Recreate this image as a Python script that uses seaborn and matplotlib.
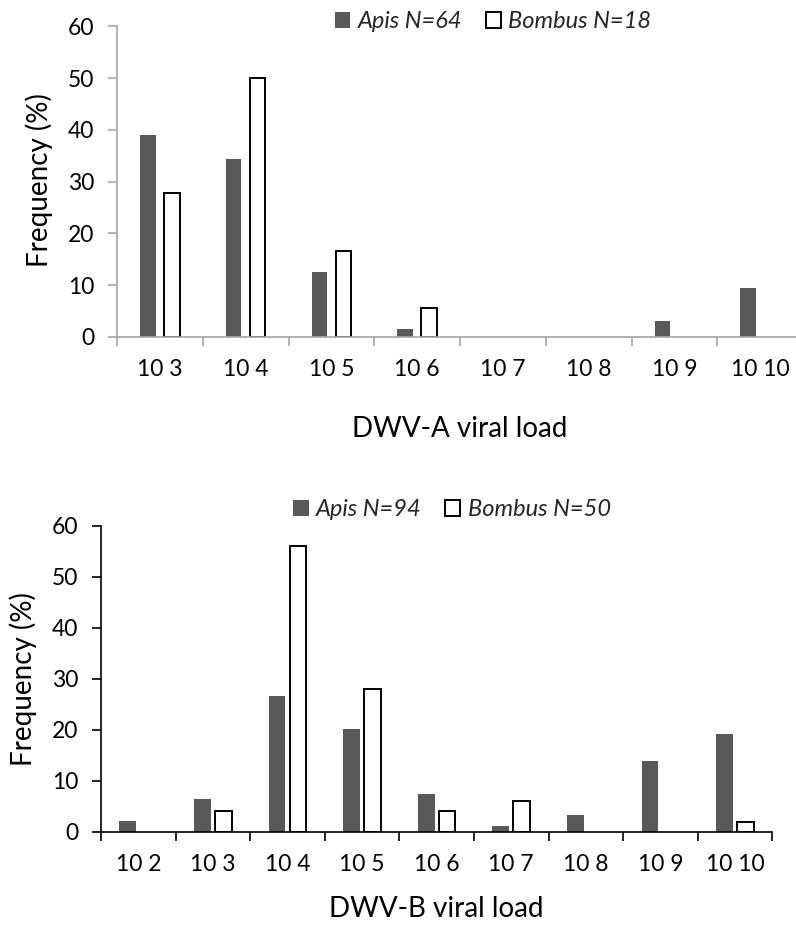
import matplotlib
matplotlib.use("Agg")
import matplotlib.pyplot as plt
import seaborn as sns
import pandas as pd
from matplotlib.patches import Patch
from matplotlib.ticker import FixedLocator

# ---- data ----
cats_a = ["10 3", "10 4", "10 5", "10 6", "10 7", "10 8", "10 9", "10 10"]
apis_a = [39.1, 34.4, 12.5, 1.6, 0, 0, 3.1, 9.4]
bombus_a = [27.8, 50.0, 16.7, 5.6, 0, 0, 0, 0]
legend_a = ["Apis N=64", "Bombus N=18"]

cats_b = ["10 2", "10 3", "10 4", "10 5", "10 6", "10 7", "10 8", "10 9", "10 10"]
apis_b = [2.1, 6.4, 26.6, 20.2, 7.4, 1.1, 3.2, 13.8, 19.1]
bombus_b = [0, 4, 56, 28, 4, 6, 0, 0, 2]
legend_b = ["Apis N=94", "Bombus N=50"]

xlabel_a = "DWV-A viral load"
xlabel_b = "DWV-B viral load"
ylabel = "Frequency (%)"
yticks = [0, 10, 20, 30, 40, 50, 60]

sns.set_theme(style="white")
plt.rcParams["font.family"] = ["Lato", "DejaVu Sans"]

W, H = 796, 927
fig = plt.figure(figsize=(W / 100, H / 100), dpi=100)

def px_axes(x0, x1, ytop, ybot):
    return fig.add_axes([x0 / W, 1 - ybot / H, (x1 - x0) / W, (ybot - ytop) / H])

def draw(ax, cats, apis, bombus, labels, xlabel, spine_color, bw_gap,
         ylab_xy, xlab_xy):
    df = pd.DataFrame({
        "cat": cats * 2,
        "val": apis + bombus,
        "series": [labels[0]] * len(cats) + [labels[1]] * len(cats),
    })
    sns.barplot(data=df, x="cat", y="val", hue="series", order=cats,
                hue_order=labels, palette=["#595959", "white"],
                width=0.56, gap=bw_gap, ax=ax, legend=False,
                edgecolor="black", linewidth=0, saturation=1)
    n = len(cats)
    for p in ax.patches:
        if p.get_height() == 0:
            p.set_visible(False)
        elif p.get_facecolor()[0] > 0.9:
            p.set_edgecolor("black")
            p.set_linewidth(1.4)
        else:
            p.set_linewidth(0)
    ax.set_xlim(-0.5, n - 0.5)
    ax.set_ylim(0, 60)
    ax.set_yticks(yticks)
    for s in ["top", "right"]:
        ax.spines[s].set_visible(False)
    for s in ["left", "bottom"]:
        ax.spines[s].set_color(spine_color)
        ax.spines[s].set_linewidth(1.2)
    ax.tick_params(axis="y", which="major", direction="out", length=6.5,
                   width=1.2, color=spine_color, labelsize=16.5, pad=10,
                   labelcolor="black", left=True)
    ax.tick_params(axis="x", which="major", length=0, labelsize=16.5, pad=16,
                   labelcolor="black")
    ax.xaxis.set_minor_locator(FixedLocator([i - 0.5 for i in range(n + 1)]))
    ax.tick_params(axis="x", which="minor", direction="out", length=6.3,
                   width=1.2, color=spine_color, bottom=True)
    ax.set_xlabel(xlabel, fontsize=20, color="black")
    ax.set_ylabel(ylabel, fontsize=20, color="black")
    ax.yaxis.set_label_coords(*ylab_xy)
    ax.xaxis.set_label_coords(*xlab_xy)
    handles = [Patch(facecolor="#595959", edgecolor="none", label=labels[0]),
               Patch(facecolor="white", edgecolor="black", linewidth=1.4,
                     label=labels[1])]
    return handles

leg_kw = dict(loc="center", ncol=2, frameon=False,
              prop={"style": "italic", "size": 17},
              handlelength=0.65, handleheight=0.65, handletextpad=0.3,
              columnspacing=1.0, borderpad=0, borderaxespad=0)

# top panel (axis extends slightly beyond the right edge as in the reference)
ax1 = px_axes(117, 803, 26.5, 337)
h1 = draw(ax1, cats_a, apis_a, bombus_a, legend_a, xlabel_a, "#A6A6A6", 0.36,
          (-0.093, 0.506), (0.5, -0.255))
fig.legend(handles=h1, bbox_to_anchor=(493 / W, 1 - 21.5 / H), **leg_kw)

# bottom panel
ax2 = px_axes(101, 772.3, 526, 831.7)
h2 = draw(ax2, cats_b, apis_b, bombus_b, legend_b, xlabel_b, "black", 0.2,
          (-0.095, 0.5), (0.5, -0.21))
fig.legend(handles=h2, bbox_to_anchor=(452 / W, 1 - 509.5 / H), **leg_kw)

fig.savefig("out.png", dpi=100)
